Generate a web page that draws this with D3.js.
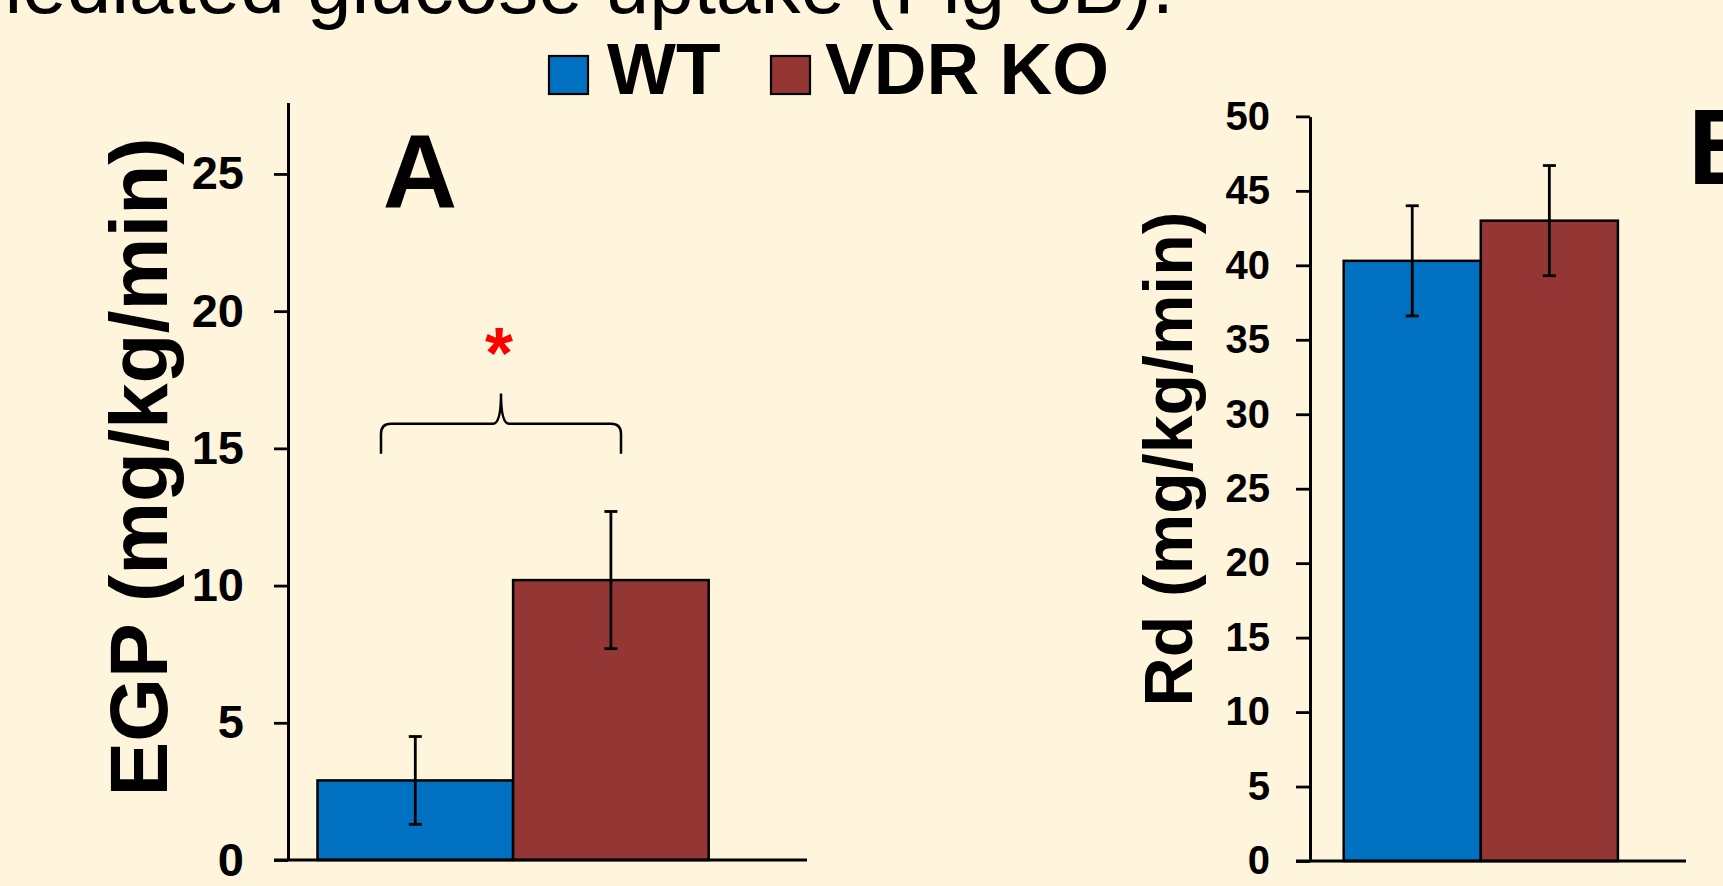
<!DOCTYPE html>
<html>
<head>
<meta charset="utf-8">
<script src="https://cdn.jsdelivr.net/npm/d3@7"></script>
<style>
  html, body { margin: 0; padding: 0; background: #fff5dc; overflow: hidden; }
  svg { display: block; font-family: "Liberation Sans", Arial, sans-serif; }
</style>
</head>
<body>
<svg id="chart" width="1723" height="886"></svg>
<script>
// data
var groups = ["WT", "VDR KO"];
var egpMean = [2.9, 10.2];
var egpErr = [1.6, 2.5];
var rdMean = [40.3, 43.0];
var rdErr = [3.7, 3.7];
var egpTicks = [0, 5, 10, 15, 20, 25];
var rdTicks = [0, 5, 10, 15, 20, 25, 30, 35, 40, 45, 50];

var fills = { "WT": "#0070c0", "VDR KO": "#943634" };

var svg = d3.select("#chart");

// clipped caption line from the slide above
svg.append("text")
    .attr("x", 1174).attr("y", 13)
    .attr("text-anchor", "end")
    .style("font-size", "80px")
    .text("mediated glucose uptake (Fig 3B).");

// legend
var legend = svg.append("g");
var legPos = [{ sx: 549, tx: 607 }, { sx: 771, tx: 825 }];
groups.forEach(function (g, i) {
    legend.append("rect")
        .attr("x", legPos[i].sx).attr("y", 56)
        .attr("width", 39).attr("height", 38)
        .attr("fill", fills[g]).attr("stroke", "#000").attr("stroke-width", 2.2);
    legend.append("text")
        .attr("x", legPos[i].tx).attr("y", 94)
        .style("font-size", "73px").style("font-weight", "bold")
        .text(g);
});

drawPanel = function (o) {
    var g = svg.append("g");

    var y = d3.scaleLinear().domain([0, o.yMax]).range([o.y0, o.yTop]);
    var x = d3.scaleBand().domain(groups).range([o.barL, o.barR]).padding(0);

    // bars
    g.selectAll(".bar").data(groups).enter().append("rect")
        .classed("bar", true)
        .attr("x", function (d) { return x(d); })
        .attr("width", x.bandwidth())
        .attr("y", function (d, i) { return y(o.mean[i]); })
        .attr("height", function (d, i) { return y(0) - y(o.mean[i]); })
        .attr("fill", function (d) { return fills[d]; })
        .attr("stroke", "#000").attr("stroke-width", 2.5);

    // error bars
    var eb = g.selectAll(".err").data(groups).enter().append("g").classed("err", true)
        .attr("transform", function (d) { return "translate(" + (x(d) + x.bandwidth() / 2) + ",0)"; });
    eb.append("line")
        .attr("y1", function (d, i) { return y(o.mean[i] + o.err[i]); })
        .attr("y2", function (d, i) { return y(o.mean[i] - o.err[i]); });
    eb.append("line").attr("x1", -6.5).attr("x2", 6.5)
        .attr("y1", function (d, i) { return y(o.mean[i] + o.err[i]); })
        .attr("y2", function (d, i) { return y(o.mean[i] + o.err[i]); });
    eb.append("line").attr("x1", -6.5).attr("x2", 6.5)
        .attr("y1", function (d, i) { return y(o.mean[i] - o.err[i]); })
        .attr("y2", function (d, i) { return y(o.mean[i] - o.err[i]); });
    eb.selectAll("line").attr("stroke", "#000").attr("stroke-width", 2.8);

    // y axis
    var ax = g.append("g")
        .attr("transform", "translate(" + o.axisX + ",0)")
        .call(d3.axisLeft(y).tickValues(o.ticks).tickSize(14).tickSizeOuter(0).tickPadding(o.pad));
    ax.select(".domain").attr("stroke-width", 3);
    ax.selectAll(".tick line").attr("stroke-width", 2.8);
    ax.selectAll(".tick text")
        .attr("font-family", "Liberation Sans, Arial, sans-serif")
        .style("font-size", o.tickSize + "px").style("font-weight", "bold").attr("fill", "#000");

    // baseline
    g.append("line")
        .attr("x1", o.axisX - 14).attr("x2", o.baseR)
        .attr("y1", y(0)).attr("y2", y(0))
        .attr("stroke", "#000").attr("stroke-width", 3);

    // axis title
    g.append("text")
        .attr("transform", "translate(" + o.labX + "," + o.labY + ") rotate(-90)")
        .attr("text-anchor", "middle")
        .style("font-size", o.labSize + "px").style("font-weight", "bold")
        .text(o.label);

    return { x: x, y: y, g: g };
};

var pA = drawPanel({
    mean: egpMean, err: egpErr, ticks: egpTicks, yMax: 27.6,
    y0: 860, yTop: 102.6, axisX: 288, barL: 317.5, barR: 708.7, baseR: 807, pad: 30, tickSize: 47,
    label: "EGP (mg/kg/min)", labX: 167, labY: 467, labSize: 82
});

var pB = drawPanel({
    mean: rdMean, err: rdErr, ticks: rdTicks, yMax: 50,
    y0: 861, yTop: 116.4, axisX: 1310, barL: 1343.7, barR: 1617.9, baseR: 1686, pad: 26, tickSize: 40,
    label: "Rd (mg/kg/min)", labX: 1192, labY: 459, labSize: 68
});

// panel letters
svg.append("text").attr("x", 420).attr("y", 207).attr("text-anchor", "middle")
    .style("font-size", "103px").style("font-weight", "bold").text("A");
svg.append("text").attr("x", 1688).attr("y", 184)
    .style("font-size", "107px").style("font-weight", "bold").text("B");

// significance brace between WT and VDR KO in panel A
var yA = pA.y;
var bl = 381, br = 621, bm = 501;
var yb = yA(15.9), ye = yA(14.8), yp = yA(17.0);
var r = 10;
var brace = "M" + bl + "," + ye +
    " L" + bl + "," + (yb + r) +
    " Q" + bl + "," + yb + " " + (bl + r) + "," + yb +
    " L" + (bm - 8) + "," + yb +
    " Q" + bm + "," + yb + " " + bm + "," + yp +
    " Q" + bm + "," + yb + " " + (bm + 8) + "," + yb +
    " L" + (br - r) + "," + yb +
    " Q" + br + "," + yb + " " + br + "," + (yb + r) +
    " L" + br + "," + ye;
pA.g.append("path").attr("d", brace)
    .attr("fill", "none").attr("stroke", "#000").attr("stroke-width", 2.5);

pA.g.append("text")
    .attr("x", bm - 2).attr("y", yA(18.8) + 34)
    .attr("text-anchor", "middle")
    .style("font-size", "72px").style("font-weight", "bold")
    .attr("fill", "#ff0000")
    .text("*");
</script>
</body>
</html>
